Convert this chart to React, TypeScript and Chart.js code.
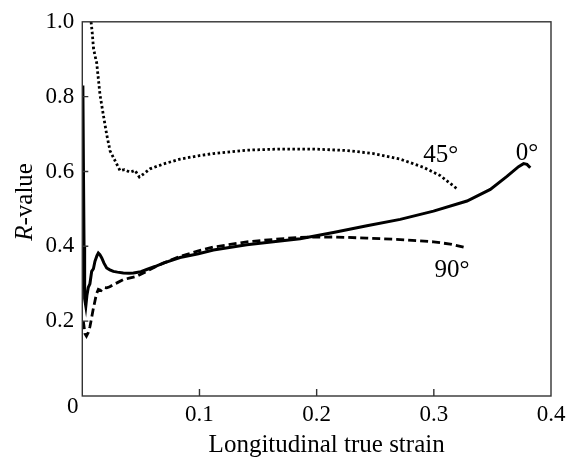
import React, { useEffect, useRef } from "react";
import { Chart, registerables } from "chart.js";

Chart.register(...registerables);

// 0° (solid)
const strain0 = [0.0005, 0.001, 0.0015, 0.002, 0.003, 0.004, 0.0051, 0.0065, 0.008, 0.0095, 0.0108, 0.0125, 0.0137, 0.015, 0.0166, 0.0185, 0.0208, 0.0235, 0.0265, 0.03, 0.035, 0.04, 0.0436, 0.05, 0.055, 0.062, 0.0692, 0.0834, 0.0991, 0.1119, 0.1404, 0.1688, 0.1859, 0.2143, 0.2429, 0.2713, 0.2997, 0.3283, 0.3482, 0.3624, 0.3723, 0.3766, 0.3795, 0.3823];
const r0 = [0.83, 0.6, 0.4, 0.26, 0.24, 0.27, 0.29, 0.3, 0.333, 0.34, 0.36, 0.375, 0.382, 0.378, 0.369, 0.355, 0.342, 0.337, 0.333, 0.331, 0.329, 0.328, 0.329, 0.332, 0.338, 0.346, 0.355, 0.37, 0.38, 0.39, 0.404, 0.414, 0.42, 0.437, 0.455, 0.472, 0.494, 0.521, 0.552, 0.587, 0.613, 0.621, 0.619, 0.61];

// 45° (dotted)
const strain45 = [0.0075, 0.0085, 0.0095, 0.0108, 0.0123, 0.0151, 0.0179, 0.0208, 0.0237, 0.0279, 0.0322, 0.036, 0.0407, 0.045, 0.0487, 0.053, 0.0578, 0.0692, 0.0834, 0.0991, 0.1119, 0.1404, 0.1688, 0.1973, 0.2258, 0.2485, 0.2713, 0.2912, 0.3055, 0.3197];
const r45 = [1.0, 0.97, 0.93, 0.91, 0.89, 0.805, 0.752, 0.699, 0.655, 0.629, 0.602, 0.605, 0.598, 0.603, 0.585, 0.595, 0.607, 0.62, 0.633, 0.642, 0.648, 0.657, 0.66, 0.66, 0.656, 0.648, 0.633, 0.611, 0.589, 0.554];

// 90° (dashed)
const strain90 = [0.0009, 0.0023, 0.0035, 0.0051, 0.0065, 0.008, 0.0095, 0.0108, 0.012, 0.0137, 0.016, 0.0185, 0.0208, 0.0235, 0.0265, 0.03, 0.035, 0.04, 0.0465, 0.055, 0.062, 0.0692, 0.0834, 0.0991, 0.1119, 0.1404, 0.1688, 0.1859, 0.2141, 0.2429, 0.2713, 0.2997, 0.314, 0.3268];
const r90 = [0.2, 0.166, 0.16, 0.17, 0.185, 0.21, 0.235, 0.254, 0.272, 0.285, 0.282, 0.29, 0.289, 0.292, 0.298, 0.303, 0.311, 0.315, 0.32, 0.333, 0.345, 0.355, 0.373, 0.388, 0.398, 0.412, 0.42, 0.424, 0.425, 0.422, 0.418, 0.412, 0.406, 0.397];

const xTicks = [0, 0.1, 0.2, 0.3, 0.4];
const yTicks = [0, 0.2, 0.4, 0.6, 0.8, 1.0];

const curveLabels = ["45°", "0°", "90°"];
const curveLabelX = [0.2910, 0.3700, 0.3005];
const curveLabelY = [0.624, 0.632, 0.317];

const xTitle = "Longitudinal true strain";
const yTitleItalic = "R";
const yTitleRest = "-value";

const SERIF = "'Liberation Serif', 'Times New Roman', serif";

const pairs = (xs: number[], ys: number[]) => xs.map((x, i) => ({ x, y: ys[i] }));

const decor = {
  id: "decor",
  afterDraw(chart: any) {
    const { ctx, chartArea: a, scales } = chart;
    const x = scales.x;
    const y = scales.y;
    ctx.save();
    // frame
    ctx.strokeStyle = "#333";
    ctx.lineWidth = 1.4;
    ctx.strokeRect(a.left, a.top, a.right - a.left, a.bottom - a.top);
    // inward ticks
    ctx.beginPath();
    for (const v of xTicks) {
      if (v <= 0 || v >= 0.4) continue;
      const px = x.getPixelForValue(v);
      ctx.moveTo(px, a.bottom);
      ctx.lineTo(px, a.bottom - 7);
    }
    for (const v of yTicks) {
      if (v <= 0 || v >= 1) continue;
      const py = y.getPixelForValue(v);
      ctx.moveTo(a.left, py);
      ctx.lineTo(a.left + 6, py);
    }
    ctx.stroke();

    ctx.fillStyle = "#000";
    // corner 0
    ctx.font = `23px ${SERIF}`;
    ctx.textAlign = "center";
    ctx.textBaseline = "middle";
    ctx.fillText("0", a.left - 9.5, a.bottom + 11);

    // curve labels
    ctx.textAlign = "left";
    ctx.textBaseline = "alphabetic";
    ctx.font = `25px ${SERIF}`;
    curveLabels.forEach((t, i) => {
      ctx.fillText(t, x.getPixelForValue(curveLabelX[i]), y.getPixelForValue(curveLabelY[i]));
    });

    // x title
    ctx.font = `25px ${SERIF}`;
    ctx.textAlign = "center";
    ctx.fillText(xTitle, (a.left + a.right) / 2 + 10, 452);

    // y title (rotated, italic R)
    ctx.translate(a.left - 57, (a.top + a.bottom) / 2 - 7);
    ctx.rotate(-Math.PI / 2);
    ctx.textBaseline = "middle";
    ctx.textAlign = "left";
    ctx.font = `italic 25px ${SERIF}`;
    const w1 = ctx.measureText(yTitleItalic).width;
    ctx.font = `25px ${SERIF}`;
    const w2 = ctx.measureText(yTitleRest).width;
    const start = -(w1 + w2) / 2;
    ctx.font = `italic 25px ${SERIF}`;
    ctx.fillText(yTitleItalic, start, 0);
    ctx.font = `25px ${SERIF}`;
    ctx.fillText(yTitleRest, start + w1, 0);
    ctx.restore();
  },
};

export default function App() {
  const ref = useRef<HTMLCanvasElement | null>(null);
  useEffect(() => {
    if (!ref.current) return;
    const chart = new Chart(ref.current, {
      type: "line",
      data: {
        datasets: [
          {
            label: "0°",
            data: pairs(strain0, r0),
            borderColor: "#000",
            borderWidth: 3,
            pointRadius: 0,
            tension: 0,
          },
          {
            label: "45°",
            data: pairs(strain45, r45),
            borderColor: "#000",
            borderWidth: 2.8,
            borderDash: [2.5, 2.5],
            pointRadius: 0,
            tension: 0,
          },
          {
            label: "90°",
            data: pairs(strain90, r90),
            borderColor: "#000",
            borderWidth: 2.8,
            borderDash: [8, 4],
            pointRadius: 0,
            tension: 0,
          },
        ],
      },
      options: {
        responsive: false,
        animation: false,
        devicePixelRatio: 1,
        layout: { padding: { top: 18, right: 20, left: 0, bottom: 0 } },
        plugins: { legend: { display: false }, tooltip: { enabled: false } },
        scales: {
          x: {
            type: "linear",
            min: 0,
            max: 0.4,
            afterBuildTicks: (s: any) => {
              s.ticks = xTicks.map((v) => ({ value: v }));
            },
            ticks: {
              callback: (v: any) => (Number(v) === 0 ? "" : Number(v).toFixed(1)),
              font: { family: SERIF, size: 23 },
              color: "#000",
              padding: 5,
              maxRotation: 0,
              autoSkip: false,
            },
            grid: { display: false, drawTicks: false },
            border: { display: false },
            afterFit: (s: any) => {
              s.height = 63;
            },
          },
          y: {
            type: "linear",
            min: 0,
            max: 1,
            afterBuildTicks: (s: any) => {
              s.ticks = yTicks.map((v) => ({ value: v }));
            },
            ticks: {
              callback: (v: any) => (Number(v) === 0 ? "" : Number(v).toFixed(1)),
              font: { family: SERIF, size: 23 },
              color: "#000",
              padding: 8,
              autoSkip: false,
            },
            grid: { display: false, drawTicks: false },
            border: { display: false },
            afterFit: (s: any) => {
              s.width = 82.3;
            },
          },
        },
      },
      plugins: [decor],
    } as any);
    return () => chart.destroy();
  }, []);
  return (
    <div style={{ position: "absolute", left: 0, top: 0, width: 571, height: 459, background: "#fff" }}>
      <canvas ref={ref} width={571} height={459} style={{ display: "block" }} />
    </div>
  );
}
